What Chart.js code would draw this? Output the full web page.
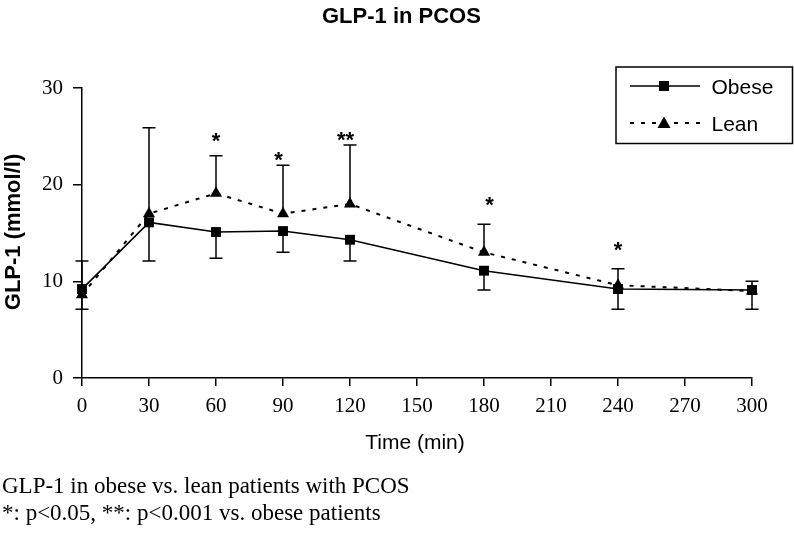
<!DOCTYPE html>
<html>
<head>
<meta charset="utf-8">
<script src="https://cdn.jsdelivr.net/npm/chart.js@4/dist/chart.umd.min.js"></script>
<style>
  html, body { margin:0; padding:0; background:#fff; }
  #wrap { width:794px; height:534px; position:relative; }
</style>
</head>
<body>
<div id="wrap"><canvas id="chart" width="794" height="534"></canvas></div>
<script>
// Tiempos (min) y valores
const times = [0, 30, 60, 90, 120, 180, 240, 300];
const obese = [9.2, 16.1, 15.1, 15.2, 14.3, 11.1, 9.2, 9.1];
const lean = [8.6, 17.0, 19.1, 17.0, 18.0, 13.0, 9.6, 9.0];
const obeseLow = [7.1, 12.1, 12.4, 13.0, 12.1, 9.1, 7.1, 7.1];   // barra hacia abajo
const leanHigh = [12.1, 25.9, 23.0, 22.0, 24.1, 15.9, 11.3, 10.0]; // barra hacia arriba
const starTimes = [60, 88, 118, 182.5, 240];
const starValues = [25.0, 23.05, 25.1, 18.45, 13.8];
const starLabels = ['*', '*', '**', '*', '*'];
const xTicks = [0, 30, 60, 90, 120, 150, 180, 210, 240, 270, 300];
const yTicks = [0, 10, 20, 30];

const SANS = '"Liberation Sans", Arial, sans-serif';
const SERIF = '"Liberation Serif", "Times New Roman", serif';

const pts = vals => times.map((t, i) => ({ x: t, y: vals[i] }));

// Dibuja barras de error, asteriscos, título, leyenda y pie
const extras = {
  id: 'extras',
  afterDatasetsDraw(chart) {
    const { ctx, scales: { x, y } } = chart;
    ctx.save();
    ctx.strokeStyle = '#000';
    ctx.lineWidth = 1.5;
    ctx.setLineDash([]);
    const cap = 6.5;
    const bar = (t, from, to) => {
      const px = x.getPixelForValue(t);
      const y1 = y.getPixelForValue(from), y2 = y.getPixelForValue(to);
      ctx.beginPath();
      ctx.moveTo(px, y1); ctx.lineTo(px, y2);
      ctx.moveTo(px - cap, y2); ctx.lineTo(px + cap, y2);
      ctx.stroke();
    };
    times.forEach((t, i) => {
      bar(t, obese[i], obeseLow[i]);
      bar(t, lean[i], leanHigh[i]);
    });

    // asteriscos
    ctx.fillStyle = '#000';
    ctx.font = 'bold 22px ' + SANS;
    ctx.textAlign = 'center';
    ctx.textBaseline = 'alphabetic';
    starTimes.forEach((t, i) => {
      ctx.fillText(starLabels[i], x.getPixelForValue(t), y.getPixelForValue(starValues[i]) + 12);
    });
    ctx.restore();
  },
  afterDraw(chart) {
    const { ctx } = chart;
    ctx.save();
    ctx.fillStyle = '#000';
    ctx.strokeStyle = '#000';

    // título
    ctx.font = 'bold 22px ' + SANS;
    ctx.textAlign = 'left';
    ctx.textBaseline = 'alphabetic';
    ctx.fillText('GLP-1 in PCOS', 322, 22.5);

    // títulos de ejes
    ctx.font = '21px ' + SANS;
    ctx.textAlign = 'center';
    ctx.fillText('Time (min)', 415, 449);
    ctx.save();
    ctx.translate(14, 232);
    ctx.rotate(-Math.PI / 2);
    ctx.font = 'bold 22px ' + SANS;
    ctx.textBaseline = 'middle';
    ctx.fillText('GLP-1 (mmol/l)', 0, 0);
    ctx.restore();

    // leyenda
    ctx.lineWidth = 1.5;
    ctx.strokeRect(616, 67, 176.5, 76.5);
    ctx.beginPath();
    ctx.moveTo(630, 86); ctx.lineTo(700, 86);
    ctx.stroke();
    ctx.fillRect(664 - 5, 86 - 5, 10, 10);
    ctx.lineWidth = 2;
    ctx.setLineDash([4, 7]);
    ctx.beginPath();
    ctx.moveTo(630, 123); ctx.lineTo(700, 123);
    ctx.stroke();
    ctx.setLineDash([]);
    ctx.beginPath();
    ctx.moveTo(664, 116.5); ctx.lineTo(670.5, 128); ctx.lineTo(657.5, 128);
    ctx.closePath();
    ctx.fill();
    ctx.font = '21px ' + SANS;
    ctx.textAlign = 'left';
    ctx.fillText('Obese', 711.5, 93.7);
    ctx.fillText('Lean', 711.5, 131);

    // pie de figura
    ctx.font = '23px ' + SERIF;
    ctx.fillText('GLP-1 in obese vs. lean patients with PCOS', 2, 493);
    ctx.fillText('*: p<0.05, **: p<0.001 vs. obese patients', 2, 520);
    ctx.restore();
  }
};

new Chart(document.getElementById('chart'), {
  type: 'line',
  data: {
    datasets: [
      { label: 'Obese', data: pts(obese), borderColor: '#000', backgroundColor: '#000', borderWidth: 1.6,
        pointStyle: 'rect', pointRadius: 7, pointHoverRadius: 7, pointBorderWidth: 0, clip: false },
      { label: 'Lean', data: pts(lean), borderColor: '#000', backgroundColor: '#000', borderWidth: 2,
        borderDash: [4, 7], pointStyle: 'triangle', pointRadius: 7, pointHoverRadius: 7, pointBorderWidth: 0, clip: false }
    ]
  },
  options: {
    responsive: false,
    animation: false,
    layout: { padding: { left: 0, top: 88, right: 42, bottom: 0 } },
    plugins: { legend: { display: false }, title: { display: false }, tooltip: { enabled: false } },
    scales: {
      x: {
        type: 'linear', min: 0, max: 300,
        afterBuildTicks: s => { s.ticks = xTicks.map(v => ({ value: v })); },
        afterFit: s => { s.height = 156; },
        grid: { display: true, drawOnChartArea: false, drawTicks: true, tickLength: 8, color: '#000', lineWidth: 1.5 },
        border: { display: true, color: '#000', width: 1.5 },
        ticks: { color: '#000', font: { family: SERIF, size: 21 }, padding: 8, maxRotation: 0, autoSkip: false }
      },
      y: {
        min: 0, max: 30,
        afterBuildTicks: s => { s.ticks = yTicks.map(v => ({ value: v })); },
        afterFit: s => { s.width = 82; },
        grid: { display: true, drawOnChartArea: false, drawTicks: true, tickLength: 9, color: '#000', lineWidth: 1.5 },
        border: { display: true, color: '#000', width: 1.5 },
        ticks: { color: '#000', font: { family: SERIF, size: 21 }, padding: 10 }
      }
    }
  },
  plugins: [extras]
});
</script>
</body>
</html>
